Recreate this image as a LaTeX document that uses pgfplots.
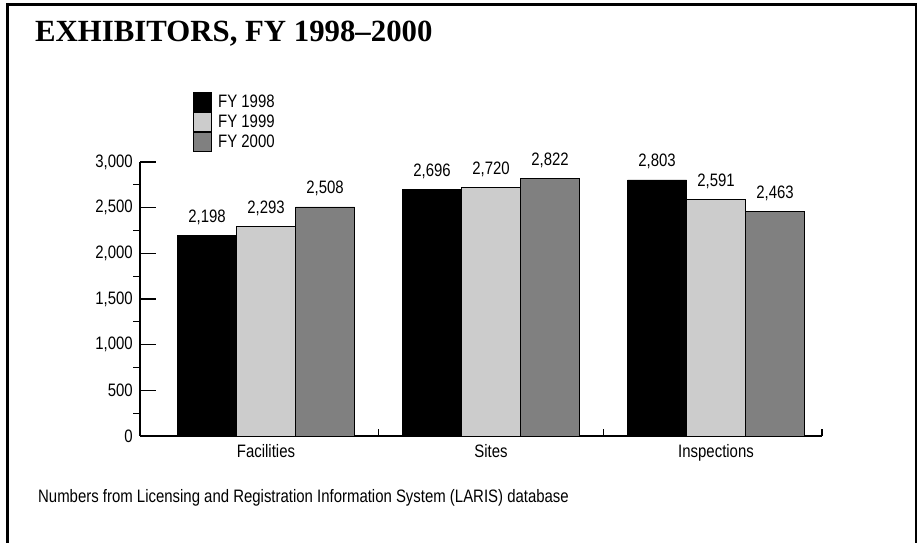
\documentclass[border=0pt]{standalone}
\usepackage{fontspec}
\setmainfont{Liberation Sans}[FakeStretch=0.83]
\newfontfamily\titlefont{Liberation Serif}
\usepackage{pgfplots}
\pgfplotsset{compat=1.18}
\newcommand\lab{\fontsize{18bp}{20bp}\selectfont}
\begin{document}
\begin{tikzpicture}[x=1bp,y=1bp]
\useasboundingbox (0,0) rectangle (924,543);
\draw[line width=2.4bp] (7.3,0) -- (7.3,538.5) -- (916,538.5) -- (916,0);
\node[anchor=base west, inner sep=0pt] at (35,501) {\titlefont\bfseries\fontsize{30.8bp}{34bp}\selectfont EXHIBITORS, FY 1998–2000};
\node[anchor=base west, inner sep=0pt] at (38,40) {\lab Numbers from Licensing and Registration Information System (LARIS) database};
\begin{axis}[
  at={(140bp,107bp)}, anchor=south west,
  scale only axis, width=682bp, height=274bp,
  xmin=-0.56, xmax=2.471, ymin=0, ymax=3000,
  axis lines=left,
  axis line style={-, line width=1.6bp},
  ybar=0pt, bar width=59bp,
  xtick={0,1,2},
  xticklabels={Facilities,Sites,Inspections},
  major x tick style={draw=none},
  extra x ticks={0.5,1.5,2.471},
  extra x tick labels={},
  extra x tick style={major x tick style={draw=black, line width=1.6bp}, major tick length=7bp, tick align=inside},
  major tick length=16bp,
  xticklabel style={font=\lab, inner sep=0pt, yshift=-8bp},
  ytick={0,500,...,3000},
  y tick style={line width=1.2bp, black},
  tick align=inside,
  extra y ticks={250,750,...,2750},
  extra y tick labels={},
  extra y tick style={tick align=outside, major tick length=7bp},
  yticklabel style={font=\lab, inner sep=0pt, xshift=-7bp},
  /pgf/number format/1000 sep={,},
  /pgf/number format/assume math mode=true,
  nodes near coords,
  nodes near coords style={font=\lab, anchor=base, yshift=13bp, inner sep=0pt},
  legend image code/.code={\draw[#1, draw=black, line width=1bp] (0bp,-9.5bp) rectangle (18bp,9.5bp);},
  legend style={at={(0.0777,1.2555)}, anchor=north west, draw=none, fill=none,
    inner sep=0pt, row sep=0pt, column sep=6bp, font=\lab,
    nodes={inner sep=0pt}, legend cell align=left},
  clip=false,
]
\addplot[fill=black, draw=black, line width=0.8bp] coordinates {(0,2198) (1,2696) (2,2803)};
\addplot[fill={rgb,255:red,204;green,204;blue,204}, draw=black, line width=0.8bp] coordinates {(0,2293) (1,2720) (2,2591)};
\addplot[fill={rgb,255:red,128;green,128;blue,128}, draw=black, line width=0.8bp] coordinates {(0,2508) (1,2822) (2,2463)};
\legend{FY 1998, FY 1999, FY 2000}
\end{axis}
\end{tikzpicture}
\end{document}
